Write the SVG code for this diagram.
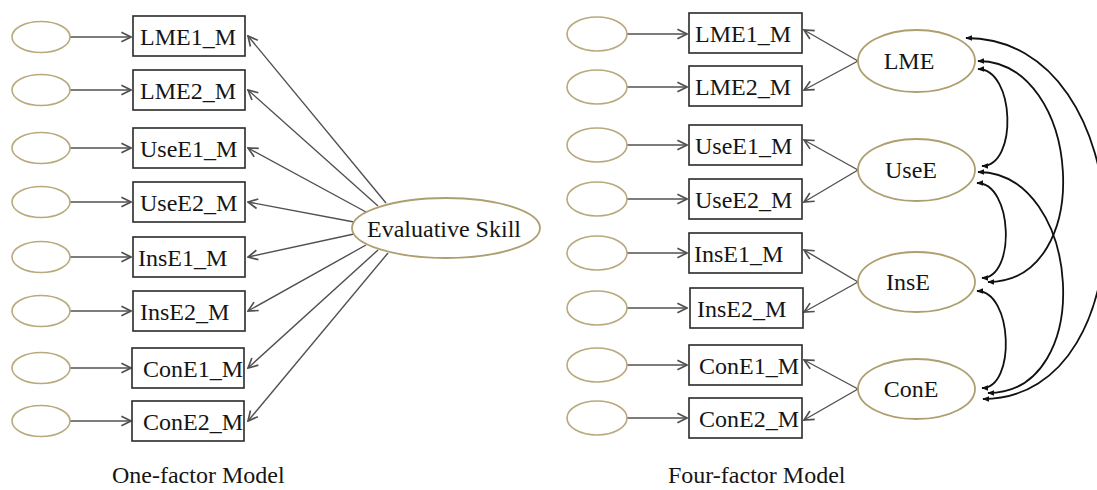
<svg xmlns="http://www.w3.org/2000/svg" width="1097" height="490" viewBox="0 0 1097 490">
  <style>
    .bg { fill: #ffffff; }
    .err { fill: #ffffff; stroke: #b8aa7c; stroke-width: 1.6; }
    .lat { fill: #ffffff; stroke: #ae9f70; stroke-width: 1.8; }
    .box { fill: #ffffff; stroke: #2a2a2a; stroke-width: 1.6; }
    .lbl { font-family: "Liberation Serif", "Times New Roman", serif; font-size: 24px; fill: #151515; }
    .mid { text-anchor: middle; }
    .path { fill: none; stroke: #505050; stroke-width: 1.4; }
    .cov { fill: none; stroke: #111111; stroke-width: 1.8; }
  </style>
  <defs>
    <marker id="open" markerUnits="userSpaceOnUse" markerWidth="12" markerHeight="12" viewBox="0 0 10 10" refX="9" refY="5" orient="auto">
      <path d="M1,1 L9,5 L1,9" fill="none" stroke="#505050" stroke-width="1.4"/>
    </marker>
    <marker id="solid" markerUnits="userSpaceOnUse" markerWidth="7" markerHeight="7" viewBox="0 0 10 10" refX="9" refY="5" orient="auto-start-reverse">
      <path d="M0,1 L10,5 L0,9 Z" fill="#111111"/>
    </marker>
  </defs>
  <rect class="bg" x="0" y="0" width="1097" height="490"/>

  <!-- connectors -->
  <g id="connectors">
    <!-- one-factor: error terms to indicators -->
    <g marker-end="url(#open)" class="path">
      <line x1="70" y1="37" x2="131" y2="37"/>
      <line x1="70" y1="90" x2="131" y2="90"/>
      <line x1="70" y1="148" x2="131" y2="148"/>
      <line x1="70" y1="202" x2="131" y2="202"/>
      <line x1="70" y1="257" x2="131" y2="257"/>
      <line x1="70" y1="311" x2="131" y2="311"/>
      <line x1="70" y1="368" x2="131" y2="368"/>
      <line x1="70" y1="421" x2="131" y2="421"/>
    </g>
    <!-- one-factor: loadings -->
    <g marker-end="url(#open)" class="path">
      <line x1="386" y1="203" x2="248" y2="36"/>
      <line x1="378" y1="206" x2="248" y2="90"/>
      <line x1="366" y1="212" x2="248" y2="148"/>
      <line x1="354" y1="222" x2="248" y2="202"/>
      <line x1="354" y1="234" x2="248" y2="257"/>
      <line x1="366" y1="245" x2="248" y2="311"/>
      <line x1="378" y1="250" x2="248" y2="368"/>
      <line x1="388" y1="253" x2="248" y2="421"/>
    </g>
    <!-- four-factor: error terms to indicators -->
    <g marker-end="url(#open)" class="path">
      <line x1="627" y1="34" x2="687" y2="34"/>
      <line x1="627" y1="87" x2="687" y2="87"/>
      <line x1="627" y1="145" x2="687" y2="145"/>
      <line x1="627" y1="199" x2="687" y2="199"/>
      <line x1="627" y1="253" x2="687" y2="253"/>
      <line x1="627" y1="308" x2="687" y2="308"/>
      <line x1="627" y1="365" x2="687" y2="365"/>
      <line x1="627" y1="418" x2="687" y2="418"/>
    </g>
    <!-- four-factor: loadings -->
    <g marker-end="url(#open)" class="path">
      <line x1="858" y1="61" x2="804" y2="30"/>
      <line x1="858" y1="61" x2="804" y2="90"/>
      <line x1="858" y1="170" x2="804" y2="140"/>
      <line x1="858" y1="170" x2="804" y2="202"/>
      <line x1="858" y1="282" x2="804" y2="250"/>
      <line x1="858" y1="282" x2="804" y2="312"/>
      <line x1="858" y1="389" x2="804" y2="360"/>
      <line x1="858" y1="389" x2="804" y2="420"/>
    </g>
    <!-- factor covariances -->
    <g class="cov" marker-start="url(#solid)" marker-end="url(#solid)">
      <path d="M966,38 C1145,38 1152,399 983,399"/>
      <path d="M978,61 C1082,61 1097,282 988,282"/>
      <path d="M978,69 C1015,69 1018,166 982,166"/>
      <path d="M978,172 C1082,172 1097,393 988,393"/>
      <path d="M977,183 C1013,183 1016,278 982,278"/>
      <path d="M977,291 C1013,291 1016,388 982,388"/>
    </g>
  </g>

  <!-- one-factor model nodes -->
  <g id="e1-1"><ellipse class="err" cx="41" cy="37" rx="29" ry="15.5"/></g>
  <g id="e1-2"><ellipse class="err" cx="41" cy="90" rx="29" ry="15.5"/></g>
  <g id="e1-3"><ellipse class="err" cx="41" cy="148" rx="29" ry="15.5"/></g>
  <g id="e1-4"><ellipse class="err" cx="41" cy="202" rx="29" ry="15.5"/></g>
  <g id="e1-5"><ellipse class="err" cx="41" cy="257" rx="29" ry="15.5"/></g>
  <g id="e1-6"><ellipse class="err" cx="41" cy="311" rx="29" ry="15.5"/></g>
  <g id="e1-7"><ellipse class="err" cx="41" cy="368" rx="29" ry="15.5"/></g>
  <g id="e1-8"><ellipse class="err" cx="41" cy="421" rx="29" ry="15.5"/></g>

  <g id="m1-lme1"><rect class="box" x="133" y="16" width="112" height="40"/><text class="lbl" x="140" y="45">LME1_M</text></g>
  <g id="m1-lme2"><rect class="box" x="133" y="70" width="112" height="40"/><text class="lbl" x="140" y="99">LME2_M</text></g>
  <g id="m1-usee1"><rect class="box" x="133" y="128" width="112" height="40"/><text class="lbl" x="140" y="157">UseE1_M</text></g>
  <g id="m1-usee2"><rect class="box" x="133" y="182" width="112" height="40"/><text class="lbl" x="140" y="211">UseE2_M</text></g>
  <g id="m1-inse1"><rect class="box" x="133" y="237" width="112" height="40"/><text class="lbl" x="138" y="266">InsE1_M</text></g>
  <g id="m1-inse2"><rect class="box" x="133" y="291" width="112" height="40"/><text class="lbl" x="140" y="320">InsE2_M</text></g>
  <g id="m1-cone1"><rect class="box" x="132" y="348" width="112" height="40"/><text class="lbl" x="143" y="377">ConE1_M</text></g>
  <g id="m1-cone2"><rect class="box" x="132" y="401" width="112" height="40"/><text class="lbl" x="143" y="430">ConE2_M</text></g>

  <g id="evaluative-skill">
    <ellipse class="lat" cx="446" cy="228" rx="94" ry="30"/>
    <text class="lbl mid" x="444" y="237">Evaluative Skill</text>
  </g>

  <!-- four-factor model nodes -->
  <g id="e4-1"><ellipse class="err" cx="597" cy="34" rx="30" ry="17"/></g>
  <g id="e4-2"><ellipse class="err" cx="597" cy="87" rx="30" ry="17"/></g>
  <g id="e4-3"><ellipse class="err" cx="597" cy="145" rx="30" ry="17"/></g>
  <g id="e4-4"><ellipse class="err" cx="597" cy="199" rx="30" ry="17"/></g>
  <g id="e4-5"><ellipse class="err" cx="597" cy="253" rx="30" ry="17"/></g>
  <g id="e4-6"><ellipse class="err" cx="597" cy="308" rx="30" ry="17"/></g>
  <g id="e4-7"><ellipse class="err" cx="597" cy="365" rx="30" ry="17"/></g>
  <g id="e4-8"><ellipse class="err" cx="597" cy="418" rx="30" ry="17"/></g>

  <g id="m4-lme1"><rect class="box" x="689" y="13" width="113" height="40"/><text class="lbl" x="695" y="42">LME1_M</text></g>
  <g id="m4-lme2"><rect class="box" x="689" y="66" width="113" height="40"/><text class="lbl" x="695" y="95">LME2_M</text></g>
  <g id="m4-usee1"><rect class="box" x="689" y="125" width="113" height="40"/><text class="lbl" x="695" y="154">UseE1_M</text></g>
  <g id="m4-usee2"><rect class="box" x="689" y="179" width="113" height="40"/><text class="lbl" x="695" y="208">UseE2_M</text></g>
  <g id="m4-inse1"><rect class="box" x="689" y="233" width="113" height="40"/><text class="lbl" x="694" y="262">InsE1_M</text></g>
  <g id="m4-inse2"><rect class="box" x="690" y="288" width="113" height="40"/><text class="lbl" x="697" y="317">InsE2_M</text></g>
  <g id="m4-cone1"><rect class="box" x="689" y="345" width="113" height="40"/><text class="lbl" x="699" y="374">ConE1_M</text></g>
  <g id="m4-cone2"><rect class="box" x="689" y="398" width="113" height="40"/><text class="lbl" x="699" y="427">ConE2_M</text></g>

  <g id="f-lme"><ellipse class="lat" cx="916.5" cy="61" rx="58.5" ry="31"/><text class="lbl mid" x="909" y="69">LME</text></g>
  <g id="f-usee"><ellipse class="lat" cx="916.5" cy="170" rx="58.5" ry="31"/><text class="lbl mid" x="911" y="178">UseE</text></g>
  <g id="f-inse"><ellipse class="lat" cx="916.5" cy="282" rx="58.5" ry="30"/><text class="lbl mid" x="908" y="290">InsE</text></g>
  <g id="f-cone"><ellipse class="lat" cx="916.5" cy="389" rx="58.5" ry="30"/><text class="lbl mid" x="911" y="397">ConE</text></g>

  <!-- panel captions -->
  <text class="lbl" x="112" y="483">One-factor Model</text>
  <text class="lbl" x="668" y="483">Four-factor Model</text>
</svg>
